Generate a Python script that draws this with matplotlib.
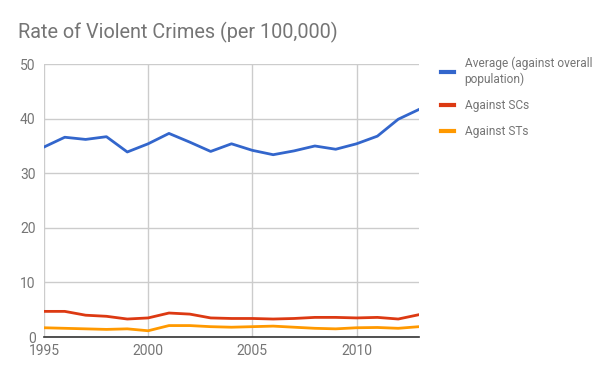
import matplotlib
matplotlib.use("Agg")
import matplotlib.pyplot as plt
from matplotlib.lines import Line2D

plt.rcParams['font.family'] = ['Roboto', 'DejaVu Sans']

years = list(range(1995, 2014))
average = [34.8, 36.6, 36.2, 36.7, 33.9, 35.4, 37.3, 35.7, 34.0, 35.4,
           34.2, 33.4, 34.1, 35.0, 34.4, 35.4, 36.8, 39.9, 41.7]
against_sc = [4.7, 4.7, 4.0, 3.8, 3.3, 3.5, 4.4, 4.2, 3.5, 3.4,
              3.4, 3.3, 3.4, 3.6, 3.6, 3.5, 3.6, 3.3, 4.1]
against_st = [1.7, 1.6, 1.5, 1.4, 1.5, 1.15, 2.1, 2.1, 1.9, 1.8,
              1.9, 2.0, 1.8, 1.6, 1.5, 1.7, 1.75, 1.6, 1.9]
labels = ["Average (against overall\npopulation)", "Against SCs", "Against STs"]
colors = ["#3366cc", "#dc3912", "#ff9900"]
title = "Rate of Violent Crimes (per 100,000)"
xticks = [1995, 2000, 2005, 2010]
yticks = [0, 10, 20, 30, 40, 50]

grey = "#757575"
fig = plt.figure(figsize=(6.1, 3.77), dpi=100)
ax = fig.add_axes([0.072, 0.106, 0.615, 0.724])

for vals, c, lab in zip([average, against_sc, against_st], colors, labels):
    ax.plot(years, vals, color=c, lw=2, label=lab, solid_joinstyle='round')

ax.set_xlim(1995, 2013)
ax.set_ylim(0, 50)
ax.set_xticks(xticks)
ax.set_yticks(yticks)
ax.grid(True, color="#cccccc", lw=1)
ax.set_axisbelow(True)
for s in ["top", "right", "left"]:
    ax.spines[s].set_visible(False)
ax.spines["bottom"].set_color("#333333")
ax.spines["bottom"].set_linewidth(1.2)
ax.spines["bottom"].set_zorder(1)
ax.tick_params(axis='both', length=0, labelsize=10, labelcolor=grey)
ax.tick_params(axis='x', pad=5)
ax.tick_params(axis='y', pad=6)

fig.text(0.03, 0.914, title, fontsize=14.3, color=grey, va='center', ha='left')

handles = [Line2D([0], [0], color=c, lw=3) for c in colors]
leg = fig.legend(handles, labels, loc='upper left', bbox_to_anchor=(0.705, 0.878),
                 frameon=False, fontsize=8.6, labelcolor=grey, handlelength=1.1,
                 handletextpad=0.9, labelspacing=1.1)

fig.savefig("out.png", dpi=100)
